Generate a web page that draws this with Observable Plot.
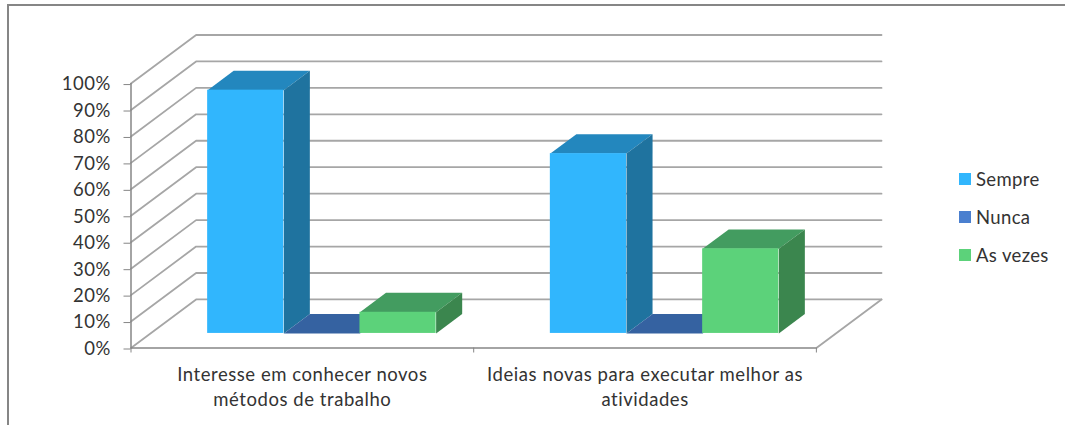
<!DOCTYPE html>
<html lang="pt">
<head>
<meta charset="utf-8">
<script src="https://cdn.jsdelivr.net/npm/d3@7"></script>
<script src="https://cdn.jsdelivr.net/npm/@observablehq/plot@0.6"></script>
<style>
  html, body { margin: 0; padding: 0; background: #fff; }
  #chart { position: relative; width: 1065px; height: 425px; overflow: hidden; font-family: Lato, sans-serif; }
  #chart svg { position: absolute; left: 0; top: 0; }
  #frame { position: absolute; left: 7px; top: 4px; right: -4px; bottom: -4px; border: 2px solid #868686; }
  #legend { position: absolute; left: 959px; top: 160px; font-size: 18.5px; letter-spacing: 0.35px; color: #333; }
  #legend div { display: flex; align-items: center; height: 38px; }
  #legend i { display: block; width: 12px; height: 12px; margin-right: 5px; }
</style>
</head>
<body>
<div id="chart"><div id="frame"></div></div>
<script>
// Survey answers, in percent, per question
const categories = ["Interesse em conhecer novos\nmétodos de trabalho", "Ideias novas para executar melhor as\natividades"];
const seriesNames = ["Sempre", "Nunca", "As vezes"];
const sempre = [92, 68];
const nunca = [0, 0];
const asVezes = [8, 32];
const seriesValues = [sempre, nunca, asVezes];
const yTicks = [0, 10, 20, 30, 40, 50, 60, 70, 80, 90, 100];

// Face colours per series: front, top, side
const swatch = ["#31B6FD", "#4A7FCF", "#5CD27A"];
const frontFill = ["#31B6FD", "#3A6FB8", "#5CD27A"];
const topFill = ["#2387BE", "#3562A1", "#439C60"];
const sideFill = ["#1F739F", "#2D5488", "#3B864E"];

// Oblique projection: depth t (0 front, 1 back wall) shifts a point along both axes
const depthX = 0.19;
const depthY = 18.37;
const project = (x, v, t) => ({x: x + t * depthX, y: v + t * depthY});

const barWidth = 1 / 4.5;
const barGap = 0.75 * barWidth;
const zFront = 0.3;
const zBack = 0.7;

const gridColor = "#A6A6A6";
const axisColor = "#868686";
const textColor = "#333333";
const labelSize = 18.5;
const labelSpacing = "0.55px";

// Back wall and floor: each level runs from the front axis to the wall, then along it
const gridLines = yTicks.flatMap((v) => [
  {level: v, ...project(0, v, 0)},
  {level: v, ...project(0, v, 1)},
  {level: v, ...project(2, v, 1)}
]);
const floorEdge = [project(2, 0, 0), project(2, 0, 1)];

// Bars are drawn left to right so nearer faces cover their neighbours
const polygon = (points, fill) => Plot.line(points, {x: "x", y: "y", fill, stroke: "none", curve: "linear-closed"});
const barMarks = categories.flatMap((_, c) => seriesNames.flatMap((_, s) => {
  const v = seriesValues[s][c];
  const x0 = c + barGap + s * barWidth;
  const x1 = x0 + barWidth;
  const front0 = project(x0, 0, zFront), front1 = project(x1, v, zFront);
  return [
    polygon([project(x0, v, zFront), project(x1, v, zFront), project(x1, v, zBack), project(x0, v, zBack)], topFill[s]),
    polygon([project(x1, 0, zFront), project(x1, v, zFront), project(x1, v, zBack), project(x1, 0, zBack)], sideFill[s]),
    Plot.rect([{x1: front0.x, x2: front1.x, y1: front0.y, y2: front1.y}], {x1: "x1", x2: "x2", y1: "y1", y2: "y2", fill: frontFill[s]})
  ];
}));

const plot = Plot.plot({
  width: 1065,
  height: 425,
  marginLeft: 130.5,
  marginRight: 184,
  marginTop: 34.5,
  marginBottom: 77.5,
  style: {background: "transparent", fontFamily: "Lato, sans-serif", letterSpacing: labelSpacing},
  x: {domain: [0, 2 + depthX], axis: null},
  y: {domain: [0, 100 + depthY], axis: null},
  marks: [
    Plot.line(gridLines, {x: "x", y: "y", z: "level", stroke: gridColor, strokeWidth: 1.8}),
    Plot.line(floorEdge, {x: "x", y: "y", stroke: gridColor, strokeWidth: 1.8}),
    ...barMarks,
    Plot.ruleX([0], {y1: 0, y2: 100, stroke: axisColor, strokeWidth: 1.5}),
    Plot.ruleY([0], {x1: 0, x2: 2, stroke: axisColor, strokeWidth: 1.5}),
    Plot.axisY({
      ticks: yTicks, tickFormat: (d) => d + "%", tickSize: 7, tickPadding: 13,
      stroke: axisColor, fill: textColor, fontSize: labelSize, label: null, dy: 1
    }),
    Plot.axisX({
      ticks: [0, 1, 2], tickFormat: () => "", tickSize: 5, stroke: axisColor, label: null
    }),
    Plot.text(categories, {
      x: (_, i) => i + 0.5, y: 0, text: (d) => d, dy: 16, lineAnchor: "top",
      lineHeight: 1.32, fontSize: labelSize, fill: textColor
    })
  ]
});
const chart = document.getElementById("chart");
chart.appendChild(plot);

// Legend beside the plot
const legend = document.createElement("div");
legend.id = "legend";
seriesNames.forEach((name, s) => {
  const row = document.createElement("div");
  const key = document.createElement("i");
  key.style.background = swatch[s];
  row.appendChild(key);
  row.appendChild(document.createTextNode(name));
  legend.appendChild(row);
});
chart.appendChild(legend);
</script>
</body>
</html>
